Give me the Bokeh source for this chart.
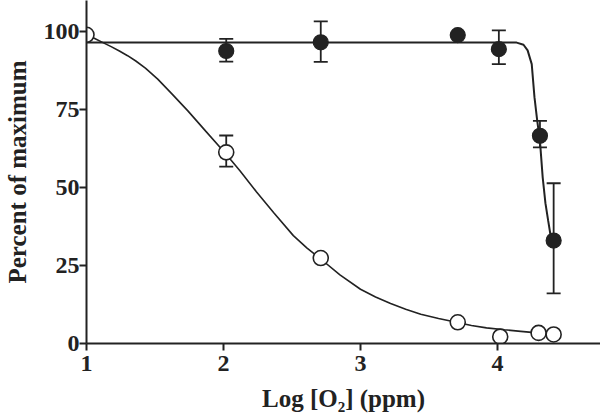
from bokeh.plotting import figure
from bokeh.models import ColumnDataSource, Whisker, TeeHead, FixedTicker, Range1d
from bokeh.embed import file_html
from bokeh.resources import INLINE

# ---- data ----
open_x = [1.00, 2.02, 2.71, 3.71, 4.02, 4.30, 4.41]
open_y = [99.0, 61.3, 27.4, 6.8, 2.2, 3.4, 2.9]
open_err_x = [2.02]
open_err_lo = [56.7]
open_err_hi = [66.7]

filled_x = [2.02, 2.71, 3.71, 4.01, 4.31, 4.41]
filled_y = [93.8, 96.6, 98.9, 94.4, 66.6, 33.0]
filled_err_x = [2.02, 2.71, 4.01, 4.31, 4.41]
filled_err_lo = [90.4, 90.3, 89.6, 62.9, 16.1]
filled_err_hi = [97.7, 103.3, 100.4, 71.4, 51.4]

open_fit_x = [1.00, 1.06, 1.12, 1.18, 1.24, 1.30, 1.36, 1.43, 1.52, 1.62, 1.74, 1.87,
              2.01, 2.12, 2.24, 2.37, 2.51, 2.61, 2.71, 2.85, 3.00, 3.11, 3.22, 3.33,
              3.44, 3.57, 3.70, 3.81, 3.92, 4.05, 4.17, 4.29, 4.41]
open_fit_y = [99.0, 97.8, 96.5, 95.2, 93.8, 92.3, 90.6, 88.3, 84.8, 80.2, 74.6, 68.1,
              61.2, 55.4, 48.7, 41.8, 34.6, 30.6, 27.1, 22.0, 17.4, 14.9, 12.8, 11.0,
              9.4, 8.0, 6.8, 5.8, 5.0, 4.4, 3.9, 3.4, 3.0]

filled_fit_x = [1.00, 4.14, 4.19, 4.22, 4.25, 4.27, 4.29, 4.31, 4.33, 4.35, 4.37, 4.39]
filled_fit_y = [96.5, 96.5, 95.8, 94.0, 89.6, 79.0, 71.5, 65.0, 53.3, 45.0, 39.4, 34.0]

x_ticks = [1, 2, 3, 4]
y_ticks = [0, 25, 50, 75, 100]
x_title = "Log [O\u2082] (ppm)"
y_title = "Percent of maximum"

INK = "#222222"
FONT = "Liberation Serif"

p = figure(width=600, height=419, output_backend="svg", toolbar_location=None,
           x_range=Range1d(1.0, 4.752), y_range=Range1d(0, 110),
           min_border_left=86, min_border_right=0, min_border_top=0, min_border_bottom=76)
p.outline_line_color = None
p.xgrid.visible = False
p.ygrid.visible = False
p.background_fill_color = "white"
p.border_fill_color = "white"

# fitted curves
p.line(open_fit_x, open_fit_y, line_color=INK, line_width=1.6)
p.line(filled_fit_x, filled_fit_y, line_color=INK, line_width=2)

# error bars
src_oe = ColumnDataSource(dict(x=open_err_x, lo=open_err_lo, hi=open_err_hi))
src_fe = ColumnDataSource(dict(x=filled_err_x, lo=filled_err_lo, hi=filled_err_hi))
for s in (src_oe, src_fe):
    w = Whisker(source=s, base="x", lower="lo", upper="hi", line_color=INK, line_width=1.8,
                upper_head=TeeHead(size=14, line_color=INK, line_width=1.8),
                lower_head=TeeHead(size=14, line_color=INK, line_width=1.8))
    p.add_layout(w)

# markers
p.scatter(filled_x, filled_y, size=15, fill_color=INK, line_color=INK, line_width=1.2)
p.scatter(open_x, open_y, size=15, fill_color="white", line_color=INK, line_width=1.6)

# axes
for ax in (p.xaxis[0], p.yaxis[0]):
    ax.axis_line_color = INK
    ax.axis_line_width = 2
    ax.major_tick_line_color = INK
    ax.major_tick_line_width = 2
    ax.major_tick_out = 7
    ax.major_tick_in = 0
    ax.minor_tick_line_color = None
    ax.major_label_text_font = FONT
    ax.major_label_text_font_style = "bold"
    ax.major_label_text_font_size = "24px"
    ax.major_label_text_color = INK
    ax.axis_label_text_font = FONT
    ax.axis_label_text_font_style = "bold"
    ax.axis_label_text_font_size = "25px"
    ax.axis_label_text_color = INK

p.xaxis.ticker = FixedTicker(ticks=x_ticks)
p.yaxis.ticker = FixedTicker(ticks=y_ticks)
p.xaxis.major_label_standoff = 5
p.yaxis.major_label_standoff = 0
p.xaxis.axis_label = x_title
p.yaxis.axis_label = y_title
p.xaxis.axis_label_standoff = 11
p.yaxis.axis_label_standoff = 10

open("out.html", "w").write(file_html(p, INLINE))
